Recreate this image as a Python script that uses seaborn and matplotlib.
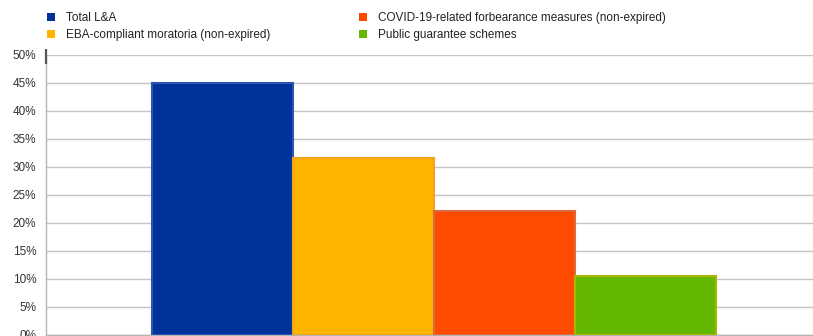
import matplotlib
matplotlib.use("Agg")
import matplotlib.pyplot as plt
import matplotlib.ticker as mticker
from matplotlib.patches import Patch
import seaborn as sns
import pandas as pd

# Share of loans and advances (%)
categories = [
    "Total L&A",
    "EBA-compliant moratoria (non-expired)",
    "COVID-19-related forbearance measures (non-expired)",
    "Public guarantee schemes",
]
values = [45.0, 31.5, 22.0, 10.4]
colors = ["#003299", "#FFB400", "#FF4B00", "#65B800"]
edge_colors = ["#2c56b2", "#f2a41e", "#dc6a3c", "#aab400"]
yticks = [0, 5, 10, 15, 20, 25, 30, 35, 40, 45, 50]

df = pd.DataFrame({"series": categories, "value": values})

sns.set_theme(style="white")
plt.rcParams["font.family"] = ["Liberation Sans", "DejaVu Sans"]

fig = plt.figure(figsize=(8.13, 3.36), dpi=100)
ax = fig.add_axes([46 / 813, 1.3 / 336, (813 - 46) / 813, 280 / 336])

sns.barplot(
    data=df, x="series", y="value", hue="series", order=categories,
    hue_order=categories, palette=colors, width=1.0, dodge=False,
    legend=False, ax=ax, saturation=1.0, zorder=3,
)
for patch, ec in zip(ax.patches, edge_colors):
    patch.set_edgecolor(ec)
    patch.set_linewidth(1.5)

ax.set_xlim(-1.252, 4.188)
ax.set_ylim(0, 50)
ax.set_yticks(yticks)
ax.yaxis.set_major_formatter(mticker.FuncFormatter(lambda v, _: f"{v:.0f}%"))
ax.tick_params(axis="y", length=0, pad=7, labelsize=8.5, labelcolor="#333333")
ax.set_xticks([])
ax.set_xlabel("")
ax.set_ylabel("")
ax.grid(axis="y", color="#c4c4c4", linewidth=1.0, zorder=0)
ax.set_axisbelow(True)
for side in ["top", "right"]:
    ax.spines[side].set_visible(False)
for side in ["left", "bottom"]:
    ax.spines[side].set_color("#b4b4b4")
    ax.spines[side].set_linewidth(1.0)

# short dark marker at the top of the value axis
ax.plot([-1.252, -1.252], [48.3, 51.0], color="#555555", linewidth=1.6,
        clip_on=False, zorder=5, solid_capstyle="butt")

handles = [Patch(facecolor=c, edgecolor="none", label=l) for c, l in zip(colors, categories)]
fig.legend(
    handles=handles, loc="upper left", bbox_to_anchor=(46.5 / 813, 1 - 12 / 336),
    ncol=2, frameon=False, fontsize=8.5, handlelength=0.68, handleheight=0.68,
    handletextpad=0.95, columnspacing=7.5, labelspacing=0.45, borderpad=0,
    borderaxespad=0, labelcolor="#222222",
)

fig.savefig("out.png", dpi=100)
